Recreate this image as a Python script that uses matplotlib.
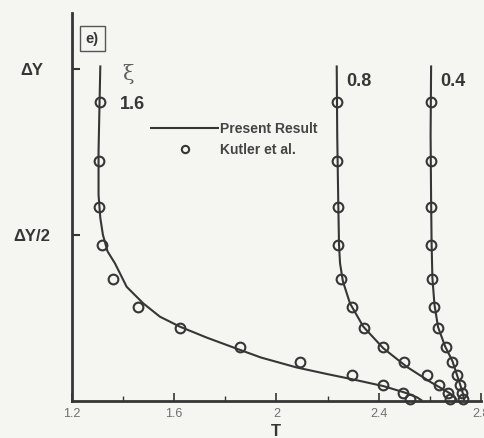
import matplotlib.pyplot as plt
from matplotlib.ticker import FixedLocator

# temperature profiles across the layer for three stations xi
xi_labels = ["1.6", "0.8", "0.4"]

# Kutler et al. data (same normal grid for every station)
y_ref = [0.900, 0.722, 0.584, 0.470, 0.367, 0.282, 0.218, 0.162, 0.117, 0.077, 0.048, 0.024, 0.004]
t_ref_16 = [1.310, 1.307, 1.305, 1.317, 1.360, 1.460, 1.623, 1.858, 2.093, 2.295, 2.418, 2.496, 2.523]
t_ref_08 = [2.236, 2.238, 2.240, 2.242, 2.252, 2.295, 2.342, 2.418, 2.498, 2.590, 2.637, 2.670, 2.678]
t_ref_04 = [2.603, 2.604, 2.605, 2.606, 2.607, 2.618, 2.631, 2.662, 2.688, 2.705, 2.718, 2.727, 2.731]

# present computation
y_16 = [1.01, 0.90, 0.75, 0.62, 0.55, 0.50, 0.45, 0.414, 0.343, 0.293, 0.253, 0.223,
        0.190, 0.153, 0.130, 0.100, 0.080, 0.064, 0.044, 0.025, 0.010, 0.0]
t_16 = [1.312, 1.309, 1.305, 1.305, 1.312, 1.322, 1.340, 1.369, 1.415, 1.480, 1.545, 1.623,
        1.728, 1.858, 1.940, 2.080, 2.200, 2.300, 2.418, 2.500, 2.550, 2.570]
y_08 = [1.01, 0.80, 0.60, 0.47, 0.414, 0.36, 0.293, 0.223, 0.158, 0.102, 0.057, 0.035, 0.022, 0.008, 0.0]
t_08 = [2.236, 2.238, 2.242, 2.245, 2.249, 2.260, 2.288, 2.340, 2.418, 2.510, 2.601, 2.650, 2.679, 2.700, 2.705]
y_04 = [1.01, 0.80, 0.60, 0.47, 0.37, 0.29, 0.222, 0.163, 0.120, 0.080, 0.050, 0.025, 0.0]
t_04 = [2.605, 2.603, 2.605, 2.607, 2.610, 2.618, 2.632, 2.660, 2.688, 2.705, 2.718, 2.728, 2.735]

x_ticks = [1.2, 1.6, 2.0, 2.4, 2.8]
x_tick_labels = ["1.2", "1.6", "2", "2.4", "2.8"]
x_minor = [1.4, 1.8, 2.2, 2.6]
y_ticks = [0.5, 1.0]
y_tick_labels = ["\u0394Y/2", "\u0394Y"]

plt.rcParams['font.family'] = ['Liberation Sans', 'DejaVu Sans']

ink = '#363636'
bg = '#f5f5f2'

fig = plt.figure(figsize=(4.84, 4.38), dpi=100, facecolor=bg)
ax = fig.add_axes([0.1481, 0.0852, 0.8457, 0.8852], facecolor=bg)

curves = [(t_16, y_16), (t_08, y_08), (t_04, y_04)]
refs = [t_ref_16, t_ref_08, t_ref_04]
for i, (tc, yc) in enumerate(curves):
    ax.plot(tc, yc, color=ink, lw=1.5, solid_capstyle='butt', zorder=3,
            label='Present Result' if i == 0 else None, clip_on=False)
for i, tr in enumerate(refs):
    ax.plot(tr, y_ref, ls='none', marker='o', ms=7, mew=1.5, mec=ink, mfc='none',
            zorder=4, clip_on=False, label='Kutler et al.' if i == 0 else None)

ax.set_xlim(1.2, 2.8)
ax.set_ylim(0, 1.168)

for side in ['top', 'right']:
    ax.spines[side].set_visible(False)
for side in ['left', 'bottom']:
    ax.spines[side].set_linewidth(2.0)
    ax.spines[side].set_color(ink)

ax.set_xticks(x_ticks)
ax.set_xticklabels(x_tick_labels, fontsize=9, color='#707070')
ax.xaxis.set_minor_locator(FixedLocator(x_minor))
ax.tick_params(axis='x', which='major', direction='in', length=6, width=1.2, color=ink, pad=5)
ax.tick_params(axis='x', which='minor', direction='in', length=3.5, width=1.0, color=ink)

ax.set_yticks(y_ticks)
ax.set_yticklabels(y_tick_labels, fontsize=12, fontweight='bold', color=ink, ha='center')
ax.tick_params(axis='y', which='major', direction='in', length=6, width=1.5, color=ink, pad=29)

ax.set_xlabel('T', fontsize=12, fontweight='bold', color=ink, labelpad=3)

# station labels
ax.text(1.418, 0.983, '\u03be', fontsize=15, family=['DejaVu Serif'],
        color='#606060', ha='center', va='center')
ax.text(1.39, 0.892, xi_labels[0], fontsize=13, fontweight='bold', color=ink, va='center')
ax.text(2.272, 0.962, xi_labels[1], fontsize=13, fontweight='bold', color=ink, va='center')
ax.text(2.640, 0.962, xi_labels[2], fontsize=13, fontweight='bold', color=ink, va='center')

# panel tag
ax.text(1.281, 1.091, 'e)', fontsize=10.5, fontweight='bold', color=ink, ha='center', va='center',
        bbox=dict(boxstyle='square,pad=0.38', fc='none', ec='#555555', lw=1.0))

leg = ax.legend(loc='upper left', bbox_to_anchor=(0.191, 0.720), frameon=False,
                fontsize=10, handlelength=5.0, handletextpad=0.05, labelspacing=0.55,
                borderpad=0, borderaxespad=0, markerscale=0.75)
for txt in leg.get_texts():
    txt.set_fontweight('bold')
    txt.set_color('#444444')

fig.savefig('out.png', dpi=100, facecolor=bg)
